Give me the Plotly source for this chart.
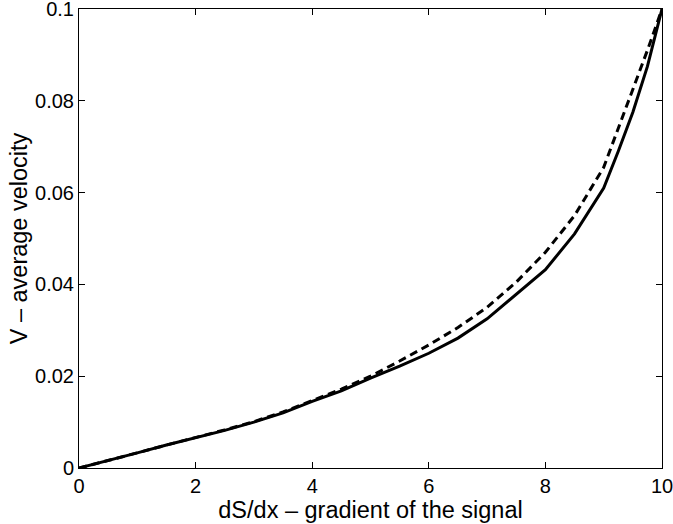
import plotly.graph_objects as go

x_solid = [0, 0.5, 1, 1.5, 2, 2.5, 3, 3.5, 4, 4.5, 5, 5.5, 6, 6.5, 7, 7.5, 8, 8.5, 9, 9.25, 9.5, 9.75, 10]
y_solid = [0, 0.0016, 0.0033, 0.0050, 0.0066, 0.0082, 0.0100, 0.0120, 0.0145, 0.0168, 0.0196, 0.0222,
           0.0250, 0.0283, 0.0325, 0.0378, 0.0432, 0.0510, 0.0610, 0.0690, 0.0775, 0.0875, 0.1000]

x_dashed = [0, 0.5, 1, 1.5, 2, 2.5, 3, 3.5, 4, 4.5, 5, 5.5, 6, 6.5, 7, 7.5, 8, 8.5, 9, 9.25, 9.5, 9.75, 10]
y_dashed = [0, 0.0016, 0.0033, 0.0050, 0.0066, 0.0083, 0.0101, 0.0122, 0.0147, 0.0172, 0.0200, 0.0233,
            0.0268, 0.0306, 0.0350, 0.0405, 0.0470, 0.0550, 0.0655, 0.0740, 0.0825, 0.0910, 0.1000]

x_ticks = [0, 2, 4, 6, 8, 10]
y_ticks = [0, 0.02, 0.04, 0.06, 0.08, 0.1]
y_tick_text = ["0", "0.02", "0.04", "0.06", "0.08", "0.1"]

fig = go.Figure()
fig.add_trace(go.Scatter(x=x_dashed, y=y_dashed, mode="lines",
                         line=dict(color="black", width=3, dash="8px,5px"), showlegend=False))
fig.add_trace(go.Scatter(x=x_solid, y=y_solid, mode="lines",
                         line=dict(color="black", width=3), showlegend=False))

font = "Liberation Sans, Arial, Helvetica, sans-serif"
fig.update_layout(
    width=673, height=524,
    margin=dict(l=79, r=11, t=9, b=56, autoexpand=False),
    paper_bgcolor="white", plot_bgcolor="white",
    font=dict(family=font, size=20, color="black"),
    xaxis=dict(range=[0, 10], tickvals=x_ticks, ticks="inside", ticklen=6, tickcolor="black",
               showline=True, linecolor="black", linewidth=1, mirror="ticks", showgrid=False,
               zeroline=False, tickfont=dict(size=20), ticklabeloverflow="allow", automargin=False,
               title=dict(text="dS/dx \u2013 gradient of the signal", font=dict(size=23.5), standoff=4)),
    yaxis=dict(range=[0, 0.1], tickvals=y_ticks, ticktext=y_tick_text, ticks="inside", ticklen=6,
               tickcolor="black", showline=True, linecolor="black", linewidth=1, mirror="ticks",
               showgrid=False, zeroline=False, tickfont=dict(size=20), ticklabeloverflow="allow",
               automargin=False,
               title=dict(text="V \u2013 average velocity", font=dict(size=23.5), standoff=0)),
)

fig.write_html("out.html", config={"displayModeBar": False},
               post_script="document.body.style.margin='0';")
